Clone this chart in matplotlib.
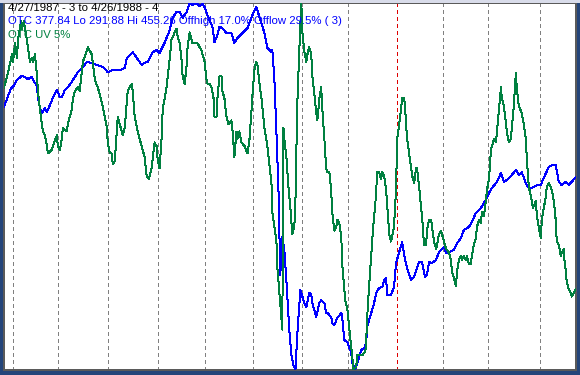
import matplotlib
matplotlib.use("Agg")
import matplotlib.pyplot as plt
from matplotlib.patches import Rectangle

# OTC composite, trading-day index from 4/27/1987 (day 0) to 4/26/1988 (day 253)
otc_day = [0.0, 3.1, 4.0, 5.7, 7.9, 9.3, 10.6, 12.4, 12.8, 14.6, 15.0, 15.9, 16.8, 18.1, 19.0,
           20.3, 21.6, 23.4, 24.7, 25.6, 26.9, 29.1, 30.5, 32.7, 34.9, 36.6, 38.8, 41.0, 43.7,
           45.9, 48.1, 51.2, 53.4, 54.3, 55.6, 56.9, 58.7, 60.9, 62.2, 63.5, 65.8, 67.5, 68.8,
           71.0, 73.3, 74.6, 76.3, 77.7, 79.0, 80.8, 82.1, 83.4, 85.2, 86.5, 87.8, 88.7, 89.6,
           90.9, 92.2, 93.1, 94.4, 95.3, 96.6, 98.4, 100.6, 101.9, 103.3, 105.5, 107.7, 109.9,
           111.6, 113.0, 115.2, 116.5, 118.3, 118.7, 119.6, 120.5, 121.4, 122.2, 123.1, 124.0,
           124.9, 126.2, 127.1, 128.0, 128.9, 129.7, 131.1, 131.5, 132.8, 133.7, 135.0, 135.9,
           136.4, 138.1, 139.5, 140.3, 141.7, 142.5, 143.0, 144.7, 145.2, 146.1, 147.4, 149.2,
           149.6, 150.5, 151.8, 153.6, 154.0, 155.3, 156.2, 157.1, 158.0, 159.3, 160.2, 160.6,
           162.4, 163.7, 164.6, 165.9, 167.3, 168.1, 169.0, 169.5, 171.2, 172.5, 173.4, 174.8,
           176.1, 177.4, 178.3, 180.1, 181.4, 183.6, 184.9, 186.2, 187.1, 188.0, 189.3, 191.1,
           192.4, 194.6, 195.5, 196.8, 199.0, 200.4, 202.1, 203.4, 205.6, 206.9, 208.7, 210.9,
           213.1, 214.5, 215.8, 218.0, 219.8, 221.1, 222.4, 224.6, 226.4, 227.7, 229.0, 230.8,
           232.1, 233.5, 235.7, 237.4, 238.7, 241.0, 242.3, 244.0, 245.4, 246.7, 248.5, 249.8,
           253.0]
otc_close = [409.0, 417.4, 417.9, 421.0, 422.8, 422.3, 421.4, 422.3, 421.0, 418.3, 413.4, 408.5,
             406.3, 408.5, 406.7, 409.9, 413.0, 416.5, 413.4, 413.4, 416.5, 418.8, 421.0, 424.5,
             426.8, 429.0, 428.6, 427.7, 426.8, 424.5, 425.4, 425.4, 426.3, 430.8, 432.1, 433.4,
             430.8, 427.7, 428.6, 429.0, 433.4, 434.3, 433.0, 437.5, 443.2, 448.6, 451.3, 451.3,
             448.6, 451.3, 455.3, 454.4, 455.3, 453.9, 454.8, 453.5, 450.8, 447.7, 444.6, 437.9,
             441.0, 444.6, 444.1, 441.9, 441.9, 437.5, 439.7, 441.9, 444.1, 449.9, 453.5, 449.0,
             441.9, 435.2, 433.4, 434.3, 421.0, 397.4, 372.0, 334.2, 351.1, 345.3, 331.9, 309.7,
             298.6, 294.1, 291.9, 307.5, 327.5, 326.2, 321.7, 319.9, 326.2, 325.3, 321.7, 315.5,
             321.7, 323.0, 321.7, 317.3, 317.3, 315.5, 312.8, 311.9, 315.0, 317.3, 315.5, 305.2,
             304.3, 299.5, 295.4, 291.9, 295.0, 297.7, 300.8, 301.7, 303.9, 311.0, 317.3, 321.7,
             326.2, 328.4, 328.8, 331.9, 332.8, 325.3, 325.3, 328.8, 339.5, 344.4, 348.9, 340.9,
             337.3, 331.9, 333.3, 340.0, 340.0, 333.3, 334.2, 340.0, 339.5, 340.9, 344.4, 346.6,
             344.0, 344.4, 345.3, 348.4, 350.6, 354.2, 355.5, 357.8, 361.8, 364.0, 367.6, 370.7,
             372.9, 375.6, 379.6, 375.6, 376.5, 378.7, 380.9, 378.7, 380.0, 375.1, 372.9, 372.9,
             374.2, 374.2, 377.4, 382.3, 383.1, 383.1, 375.6, 374.2, 375.6, 374.2, 377.8]
otc_lo, otc_hi = 291.88, 455.26

# OTC upside volume (5%), shown on its own 0-100 scale
uv_day = [0.0, 1.8, 3.5, 4.0, 4.9, 5.7, 6.2, 7.5, 7.9, 8.8, 10.1, 11.5, 12.4, 12.8, 13.7, 14.6,
          15.0, 15.9, 17.2, 18.1, 19.0, 19.4, 21.2, 21.6, 23.4, 23.8, 24.7, 25.6, 26.0, 27.8,
          28.2, 30.0, 30.5, 31.3, 32.7, 33.5, 34.4, 34.9, 36.6, 37.1, 38.8, 40.2, 41.5, 43.2,
          44.6, 45.5, 45.9, 46.8, 47.7, 48.1, 49.0, 50.3, 52.1, 52.5, 53.4, 54.7, 56.5, 56.9,
          57.8, 59.1, 60.0, 60.9, 62.2, 63.1, 64.0, 65.3, 66.6, 67.5, 68.0, 68.8, 69.7, 70.2,
          71.9, 73.3, 74.1, 75.5, 76.3, 76.8, 77.7, 78.6, 79.0, 79.9, 80.8, 81.2, 82.1, 83.0,
          83.4, 85.2, 85.6, 87.4, 88.7, 89.6, 90.0, 90.9, 91.8, 92.7, 93.1, 94.0, 94.4, 95.3,
          96.2, 96.6, 97.5, 98.4, 99.3, 100.6, 101.1, 101.9, 102.8, 103.3, 104.1, 105.0, 106.4,
          107.7, 108.6, 109.4, 109.9, 110.8, 111.6, 112.1, 113.0, 113.9, 115.2, 116.5, 117.4,
          118.3, 118.7, 119.6, 120.5, 120.9, 121.8, 122.7, 123.1, 123.6, 124.0, 124.9, 125.8,
          126.7, 127.5, 128.4, 128.9, 129.3, 129.7, 130.6, 131.5, 132.0, 132.8, 133.7, 134.2,
          135.0, 135.9, 136.4, 137.3, 138.1, 138.6, 139.5, 140.3, 140.8, 141.7, 142.5, 143.0,
          143.9, 144.7, 145.2, 146.1, 147.0, 147.4, 148.3, 149.2, 149.6, 150.9, 151.8, 153.1,
          154.0, 154.5, 155.8, 156.2, 157.1, 158.4, 159.8, 160.2, 160.6, 161.5, 162.4, 163.3,
          164.6, 165.0, 165.9, 166.8, 167.3, 168.1, 169.0, 170.4, 171.2, 172.5, 173.4, 173.9,
          174.8, 175.6, 176.1, 177.0, 177.4, 177.8, 178.3, 179.2, 180.1, 180.5, 181.4, 182.3,
          182.7, 183.6, 184.5, 184.9, 185.8, 186.7, 187.1, 188.0, 188.9, 189.3, 190.2, 191.1,
          191.5, 192.4, 193.3, 194.2, 194.6, 195.5, 196.8, 197.7, 198.1, 199.0, 199.9, 200.4,
          201.2, 202.1, 202.5, 203.4, 204.3, 204.8, 205.6, 206.5, 206.9, 207.8, 208.7, 209.2,
          210.1, 210.9, 211.4, 212.3, 213.1, 213.6, 214.5, 215.4, 216.7, 217.6, 218.9, 219.8,
          220.2, 221.1, 222.0, 222.4, 223.3, 224.2, 224.6, 225.5, 226.4, 226.8, 227.7, 229.0,
          229.9, 230.8, 231.2, 232.1, 233.5, 233.9, 235.2, 235.7, 236.5, 237.4, 237.9, 238.7,
          239.6, 240.1, 241.0, 241.8, 242.3, 243.2, 244.0, 244.5, 245.4, 246.3, 246.7, 247.6,
          248.0, 248.5, 248.9, 249.8, 250.7, 251.1, 253.0]
uv_pct = [77, 81, 86, 84, 89, 85, 90, 95, 93, 95, 90, 84, 85, 84, 86, 80, 76, 71, 65, 64, 61, 59,
          60, 61, 64, 61, 60, 63, 66, 65, 67, 71, 74, 76, 77, 76, 81, 84, 87, 88, 86, 79, 77, 73,
          69, 66, 62, 59, 59, 56, 57, 69, 65, 64, 66, 76, 78, 76, 69, 65, 63, 61, 58, 53, 52, 55,
          62, 61, 57, 55, 63, 71, 77, 85, 90, 92, 93, 91, 89, 84, 80, 78, 83, 88, 92, 90, 89, 89,
          89, 87, 84, 79, 78, 78, 77, 74, 69, 69, 74, 80, 80, 76, 74, 69, 67, 68, 65, 58, 65, 63,
          65, 62, 61, 59, 63, 70, 75, 82, 84, 83, 78, 74, 66, 61, 56, 51, 43, 39, 35, 28, 21, 14,
          11, 66, 63, 58, 50, 44, 37, 39, 46, 59, 72, 87, 100, 92, 87, 84, 86, 88, 86, 80, 75, 70,
          68, 74, 77, 71, 63, 55, 54, 54, 49, 43, 38, 39, 41, 40, 36, 29, 19, 17, 9, 4, 0, 1, 4,
          4, 4, 5, 8, 14, 23, 31, 39, 48, 54, 54, 52, 54, 53, 49, 37, 35, 39, 49, 63, 67, 71, 74,
          74, 72, 67, 63, 59, 55, 53, 51, 55, 55, 50, 44, 42, 34, 34, 38, 41, 41, 39, 35, 33, 34,
          37, 38, 36, 35, 33, 32, 30, 27, 25, 23, 27, 30, 31, 30, 31, 30, 31, 29, 29, 31, 34, 36,
          39, 41, 40, 43, 42, 46, 49, 52, 60, 63, 62, 71, 77, 74, 72, 67, 65, 62, 63, 66, 72, 81,
          77, 72, 70, 67, 63, 58, 50, 46, 44, 46, 42, 39, 36, 41, 44, 47, 50, 51, 50, 49, 46, 41,
          35, 34, 31, 32, 33, 29, 27, 24, 22, 21, 20, 22]

# first trading day of each month (the red one is the new year)
month_starts = [4, 24, 46, 68, 89, 110, 132, 152, 174, 194, 214, 237]
year_start = 174

title_lines = ["4/27/1987 - 3 to 4/26/1988 - 4",
               "OTC 377.84 Lo 291.88 Hi 455.26 Offhigh 17.0% Offlow 29.5% ( 3)",
               "OTC UV 5%"]

W, H = 580, 375
PX = 0.72  # one pixel in points at 100 dpi

fig = plt.figure(figsize=(W / 100, H / 100), dpi=100, facecolor="#24457a")
fig.patches.append(Rectangle((0, (H - 3) / H), 1, 3 / H, transform=fig.transFigure,
                             facecolor="#d9dcea", edgecolor="none"))

ax = fig.add_axes([4 / W, 5 / H, 572 / W, 367 / H])
ax.set_facecolor("white")
for s in ax.spines.values():
    s.set_color("#5a5a5a")
    s.set_linewidth(2 * PX)
ax.set_xticks([])
ax.set_yticks([])
ax.set_xlim(0, 253)
ax.set_ylim(otc_lo, otc_hi)

for d in month_starts:
    c = "#dd0000" if d == year_start else "#808080"
    ax.axvline(d, color=c, lw=PX, ls=(0, (3, 3)), antialiased=False, zorder=1)

ax2 = ax.twinx()
ax2.set_ylim(0, 100)
ax2.axis("off")

ax2.plot(uv_day, uv_pct, color="#008040", lw=PX, antialiased=False, zorder=3)
ax.plot(otc_day, otc_close, color="#0000ff", lw=PX, antialiased=False, zorder=4)

colors = ["black", "#0000ff", "#008040"]
for i, (txt, c) in enumerate(zip(title_lines, colors)):
    fig.text(8 / W, 1 - (3 + 13.5 * i) / H, txt, color=c, fontsize=8.2,
             family="Liberation Sans", va="top", ha="left")

fig.savefig("out.png", dpi=100, facecolor=fig.get_facecolor())
